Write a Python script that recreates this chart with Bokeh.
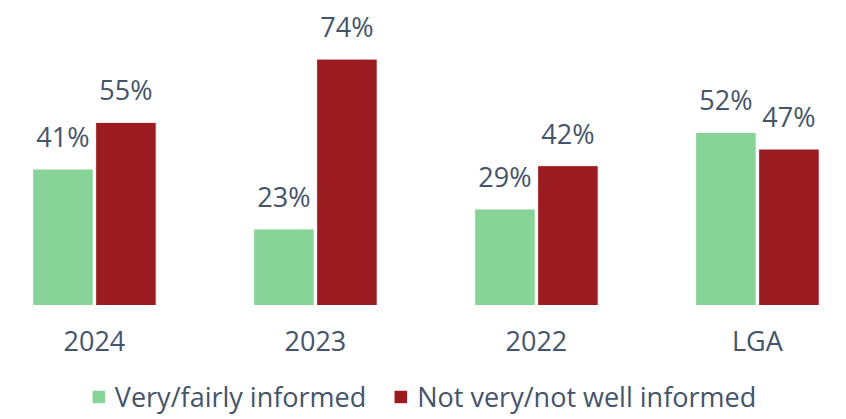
import numpy as np
from bokeh.plotting import figure
from bokeh.models import ColumnDataSource, Range1d, Legend, LegendItem, LabelSet
from bokeh.core.properties import value
from bokeh.embed import file_html
from bokeh.resources import INLINE

categories = ["2024", "2023", "2022", "LGA"]
informed = [41, 23, 29, 52]
not_informed = [55, 74, 42, 47]
series_names = ["Very/fairly informed", "Not very/not well informed"]

GREEN = "#88D498"
RED = "#9B1C20"
TEXT = "#44546A"
FONT = "Open Sans"

idx = np.arange(len(categories))
off = 0.1425
bw = 0.274

src_g = ColumnDataSource(dict(x=idx - off, top=informed, lab=[f"{v}%" for v in informed]))
src_r = ColumnDataSource(dict(x=idx + off, top=not_informed, lab=[f"{v}%" for v in not_informed]))
src_c = ColumnDataSource(dict(x=idx, y=np.zeros(len(categories)), lab=categories))

p = figure(frame_width=846, frame_height=419, output_backend="svg", toolbar_location=None,
           x_range=Range1d(-0.425, 3.403), y_range=Range1d(-34.23, 91.6),
           min_border_left=0, min_border_right=0, min_border_top=0, min_border_bottom=0)
p.outline_line_color = None
p.grid.grid_line_color = None
p.xaxis.visible = False
p.yaxis.visible = False

rg = p.vbar(x="x", top="top", width=bw, bottom=0, source=src_g, fill_color=GREEN, line_color="white", line_width=1)
rr = p.vbar(x="x", top="top", width=bw, bottom=0, source=src_r, fill_color=RED, line_color="white", line_width=1)

for s in (src_g, src_r):
    p.add_layout(LabelSet(x="x", y="top", text="lab", source=s, text_align="center",
                          text_baseline="alphabetic", y_offset=22, text_color=TEXT,
                          text_font=value(FONT), text_font_size="27px"))

p.add_layout(LabelSet(x="x", y="y", text="lab", source=src_c, text_align="center",
                      text_baseline="alphabetic", y_offset=-45, text_color=TEXT,
                      text_font=value(FONT), text_font_size="27px"))

legend = Legend(items=[LegendItem(label=series_names[0], renderers=[rg]),
                       LegendItem(label=series_names[1], renderers=[rr])],
                orientation="horizontal", location="bottom",
                label_text_font=FONT, label_text_font_size="27px", label_text_color=TEXT,
                glyph_width=17, glyph_height=17, label_standoff=8, spacing=26,
                border_line_alpha=0, background_fill_alpha=0, padding=0, margin=4)
p.add_layout(legend, "center")

open("out.html", "w").write(file_html(p, INLINE))
